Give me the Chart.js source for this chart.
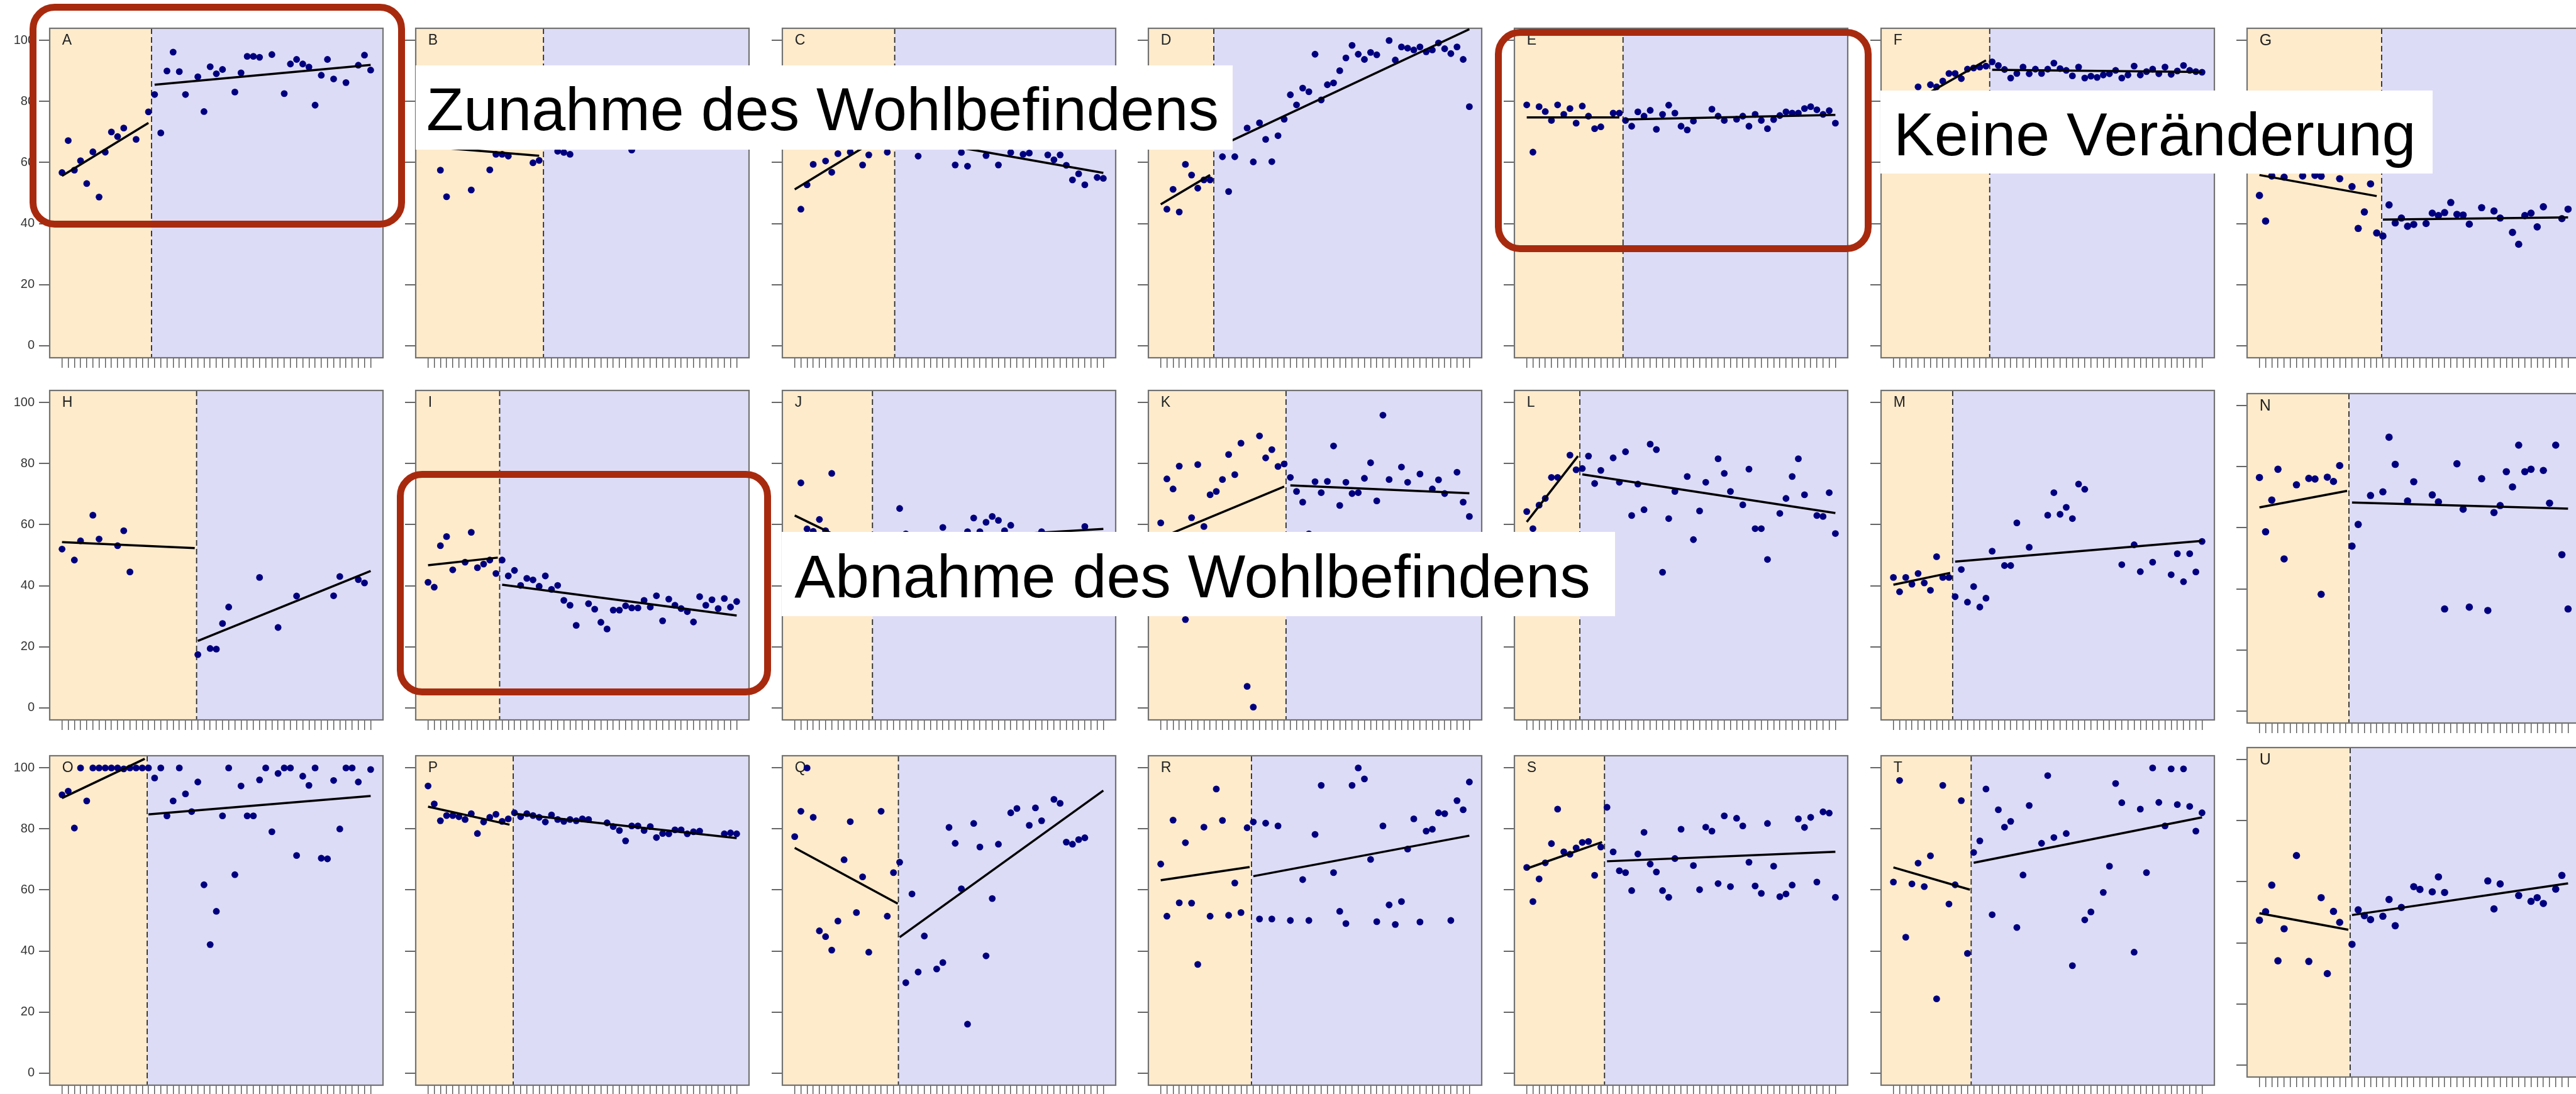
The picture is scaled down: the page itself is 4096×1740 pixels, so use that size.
<!DOCTYPE html>
<html>
<head>
<meta charset="utf-8">
<script src="https://cdn.jsdelivr.net/npm/chart.js@4.4.1/dist/chart.umd.min.js"></script>
<style>
  html, body { margin: 0; padding: 0; background: #fff; }
  #stage { position: relative; width: 4096px; height: 1740px; overflow: hidden; background: #fff;
           font-family: "Liberation Sans", Arial, sans-serif; }
  #stage canvas { position: absolute; z-index: 1; }
  .ring { position: absolute; z-index: 2; box-sizing: border-box; border: 11px solid #a82a0e; border-radius: 40px; }
  .tag { position: absolute; z-index: 3; background: #fff; }
  .tagtext { position: absolute; z-index: 4; font-size: 97px; line-height: 97px; color: #000; white-space: nowrap; }
</style>
</head>
<body>
<div id="stage">
  <div class="ring" style="left:47px;top:5.7px;width:597px;height:356.3px"></div>
  <div class="ring" style="left:2376.8px;top:45.7px;width:599.3px;height:355.2px"></div>
  <div class="ring" style="left:630.6px;top:748.7px;width:595.3px;height:357.5px"></div>

  <div class="tag" style="left:660.7px;top:103.8px;width:1299.8px;height:134.5px"></div>
  <div class="tagtext" style="left:678px;top:125.4px">Zunahme des Wohlbefindens</div>

  <div class="tag" style="left:2990.2px;top:143.7px;width:877.6px;height:132.2px"></div>
  <div class="tagtext" style="left:3011px;top:164.8px">Keine Veränderung</div>

  <div class="tag" style="left:1243.3px;top:845.9px;width:1324.7px;height:134.5px"></div>
  <div class="tagtext" style="left:1263.3px;top:867.8px">Abnahme des Wohlbefindens</div>
</div>

<script>
// Well-being scores per participant, one entry per session (0..50); null = no measurement.
const scoresA = [56.7, 67.2, 57.5, 60.6, 53.1, 63.5, 48.7, 63.4, 70.0, 68.5,
  71.3, null, 67.6, null, 76.6, 82.3, 69.7, 90.0, 96.2, 89.8,
  82.3, null, 88.1, 76.7, 91.4, 89.1, 90.5, null, 83.1, 89.4,
  94.8, 94.8, 94.5, null, 95.4, null, 82.6, 92.3, 93.8, 92.3,
  91.3, 78.8, 88.6, 93.8, 87.4, null, 86.2, null, 91.9, 95.2,
  90.3];
const scoresB = [null, null, 57.5, 48.8, null, null, null, 51.0, null, null,
  57.6, 62.7, 62.7, 62.1, null, null, null, 59.9, 60.7, null,
  null, 63.7, 63.3, 62.7, null, null, null, null, null, null,
  null, null, null, 64.1, null, null, null, null, null, null,
  null, null, null, null, null, null, null, null, null, null,
  null];
const scoresC = [null, 44.7, 52.7, 59.4, null, 60.5, 56.8, 62.9, null, 63.4,
  null, 59.2, 62.5, null, null, 63.4, null, null, null, null,
  62.1, null, null, null, null, null, 59.2, 63.3, 58.8, null,
  null, 62.3, null, 59.2, null, 63.3, null, 62.7, 63.1, null,
  null, 62.5, 60.9, 62.5, 59.1, 54.3, 56.3, 52.7, null, 55.1,
  54.8];
const scoresD = [null, 44.7, 51.2, 43.8, 59.4, 55.9, 51.6, 54.3, 54.3, null,
  61.9, 50.5, 61.9, null, 71.3, 60.2, 73.0, 67.6, 60.3, 68.8,
  74.2, 82.2, 78.9, 84.4, 83.2, 95.5, 80.5, 85.5, 86.1, 90.1,
  94.3, 98.4, 95.5, 93.8, 96.1, 95.3, null, 100, 93.6, 97.9,
  97.5, 96.9, 97.9, 96.3, 96.9, 99.2, 97.3, 95.7, 97.9, 93.8,
  78.3];
const scoresE = [78.9, 63.4, 78.3, 76.7, 73.8, 78.9, 75.8, 77.7, 72.9, 78.5,
  75.2, 71.1, 71.7, null, 76.2, 76.2, 73.8, 71.9, 76.6, 75.2,
  77.1, 70.9, 75.8, 78.8, 76.2, 71.9, 70.7, 73.6, null, null,
  77.5, 75.2, 73.8, null, 74.2, 75.2, 71.9, 75.8, 73.8, 71.1,
  74.1, 75.4, 76.6, 76.2, 76.2, 77.7, 78.3, 77.3, 75.8, 77.0,
  72.9];
const scoresF = [null, null, null, null, 84.8, null, 85.5, 84.8, 86.7, 89.2,
  89.2, 87.5, 90.6, 91.0, 91.3, 91.6, 93.0, 91.8, 90.5, 87.7,
  89.2, 91.3, 89.1, 90.6, 89.2, 90.6, 92.6, 90.8, 90.2, 88.4,
  91.3, 87.7, 88.3, 87.9, 88.7, 89.1, 90.2, 87.7, 88.7, 91.6,
  88.7, 89.8, 90.6, 89.1, 91.3, 88.9, 90.0, 91.8, 90.2, 89.8,
  89.6];
const scoresG = [49.2, 40.8, 55.6, null, 55.2, null, null, 55.6, null, 55.8,
  55.5, null, null, 54.7, null, 52.1, 38.4, 43.8, 53.0, 36.9,
  35.9, 46.1, 40.2, 41.8, 39.1, 39.7, null, 40.0, 43.4, 42.6,
  43.6, 46.9, 43.0, 42.8, 39.8, null, 45.2, null, 44.1, 41.8,
  null, 37.1, 33.2, 42.6, 43.4, 38.9, 45.5, null, null, 41.6,
  44.7];
const scoresH = [52.0, null, 48.4, 54.7, null, 63.1, 55.3, null, null, 53.1,
  58.0, 44.5, null, null, null, null, null, null, null, null,
  null, null, 17.4, null, 19.4, 19.2, 27.6, 33.0, null, null,
  null, null, 42.7, null, null, 26.3, null, null, 36.6, null,
  null, null, null, null, 36.7, 43.0, null, null, 42.0, 40.9,
  null];
const scoresI = [41.1, 39.5, 53.1, 56.1, 45.2, null, 47.7, 57.5, 45.9, 47.1,
  48.4, 44.0, 48.4, 43.2, 45.0, 40.1, 42.4, 41.9, 39.8, 43.2,
  38.8, 40.1, 35.2, 33.6, 27.0, null, 34.1, 32.3, 28.0, 25.8,
  32.0, 32.0, 33.4, 32.7, 32.7, 35.2, 33.0, 36.7, 28.5, 35.6,
  33.6, 32.5, 31.5, 28.1, 36.4, 33.6, 35.4, 32.5, 35.8, 33.0,
  34.8];
const scoresJ = [null, 73.7, 58.6, 57.8, 61.7, 58.0, 76.8, null, null, null,
  null, null, null, null, null, null, null, 65.3, 57.0, null,
  null, null, null, null, 59.1, null, null, null, 57.7, 62.2,
  57.7, 60.8, 62.7, 61.4, 58.0, 59.8, null, null, null, null,
  57.7, null, null, null, null, null, null, 59.4, null, null,
  null];
const scoresK = [60.6, 75.0, 71.7, 79.2, 28.9, 62.3, 79.7, 59.4, 69.8, 70.9,
  74.8, 83.0, 76.4, 86.7, 7.0, 0.2, 89.1, 81.9, 84.6, 79.1,
  79.9, 75.5, 70.9, 67.4, 57.0, 74.1, 70.5, 74.2, 85.8, 66.3,
  73.9, 70.2, 70.5, 75.2, 80.3, 67.8, 95.9, 74.8, null, 78.9,
  73.9, null, 76.6, null, 71.7, 74.7, 70.2, null, 77.2, 67.4,
  62.7];
const scoresL = [64.3, 58.7, 66.4, 68.6, 75.5, 75.5, null, 82.8, 78.0, 78.4,
  82.5, 73.5, 77.8, null, 81.9, 73.9, 83.9, 63.0, 73.3, 64.9,
  86.4, 84.6, 44.4, 62.0, 70.9, null, 75.8, 55.1, 64.5, 73.9,
  null, 81.6, 76.8, 70.9, null, 66.5, 78.2, 58.7, 58.7, 48.6,
  null, 63.7, 68.6, 75.8, 81.6, 69.8, null, 63.0, 62.7, 70.5,
  57.1];
const scoresM = [42.7, 38.0, 42.7, 40.5, 44.0, 40.9, 38.5, 49.5, 42.7, 42.7,
  36.4, 45.3, 34.6, 39.7, 33.0, 35.9, 51.3, null, 46.6, 46.6,
  60.6, null, 52.6, null, null, 63.1, 70.5, 63.4, 65.7, 62.0,
  73.3, 71.6, null, null, null, null, null, 46.9, null, 53.4,
  44.6, null, 47.7, null, null, 43.6, 50.5, 41.3, 50.5, 44.5,
  54.5];
const scoresN = [76.5, 58.7, 69.1, 79.2, 49.8, null, 74.1, null, 76.2, 76.0,
  38.2, 76.6, 75.2, 80.4, null, 54.0, 61.1, null, 70.6, null,
  71.8, 89.7, 80.8, null, 68.8, 75.1, null, null, 70.8, 68.5,
  33.4, null, 81.0, 66.1, 34.0, null, 76.1, 32.9, 65.0, 67.3,
  78.4, 73.4, 87.1, 78.4, 79.2, null, 78.8, 68.1, 87.1, 51.2,
  33.4];
const scoresO = [91.2, 92.4, 80.3, 100, 89.2, 100, 100, 100, 100, 100,
  99.7, 100, 100, 100, 100, 96.7, 100, 84.3, 89.2, 100,
  91.5, 85.7, 95.4, 61.7, 42.1, 53.0, 84.3, 100, 65.0, 94.1,
  84.3, 84.3, 96.1, 100, 79.1, 98.2, 100, 100, 71.3, 97.3,
  94.3, 100, 70.4, 70.2, 95.9, 80.0, 100, 100, 95.4, null,
  99.5];
const scoresP = [94.1, 88.2, 82.7, 84.4, 84.4, 84.0, 83.1, 85.0, 78.5, 82.3,
  83.8, 84.8, 82.5, 83.3, 85.3, 84.0, 85.0, 84.4, 83.8, 82.3,
  84.6, 83.1, 82.5, 83.1, 82.7, 83.3, 83.1, null, null, 82.0,
  80.8, 79.5, 76.1, 81.0, 81.0, 79.5, 80.8, 77.2, 78.5, 78.4,
  79.7, 79.7, 78.4, 79.1, 79.3, null, null, null, 78.4, 78.7,
  78.4];
const scoresQ = [77.5, 85.8, 100, 83.8, 46.6, 44.7, 40.3, 49.8, 69.9, 82.4,
  52.6, 64.3, 39.6, null, 85.8, 51.4, 65.7, 69.1, 29.6, 58.7,
  33.1, 44.9, null, 34.1, 36.2, 80.5, 75.3, 60.4, 16.0, 81.8,
  74.1, 38.4, 57.2, 75.0, null, 85.3, 86.7, null, 81.2, 86.9,
  82.7, null, 89.7, 88.4, 75.7, 75.0, 76.5, 77.1, null, null,
  null];
const scoresR = [68.5, 51.4, 82.9, 55.8, 75.5, 55.7, 35.6, 80.6, 51.4, 93.1,
  82.8, 51.7, 62.3, 52.6, 80.4, 82.3, 50.5, 81.9, 50.5, 81.0,
  null, 50.0, null, 63.4, 50.0, 78.2, 94.3, null, 65.7, 53.0,
  49.0, 94.3, 100, 96.4, 70.0, 49.6, 81.0, 55.1, 48.7, 56.2,
  73.4, 83.3, 49.5, 79.3, 79.9, 85.3, 85.0, 50.0, 89.3, 86.3,
  95.4];
const scoresS = [67.4, 56.2, 63.6, 68.9, 75.2, 86.5, 72.5, 71.7, 73.8, 75.6,
  75.9, 64.8, 74.1, 87.1, 72.5, 66.3, 65.7, 59.8, 71.8, 78.9,
  68.5, 65.9, 59.8, 57.6, 70.3, 79.9, null, 68.0, 60.1, 80.6,
  79.3, 62.1, 84.3, 61.1, 83.5, 81.0, 69.1, 61.3, 58.9, 81.8,
  67.8, 57.8, 58.7, 61.6, 83.3, 80.5, 83.8, 62.6, 85.6, 85.2,
  57.6];
const scoresT = [62.6, 95.9, 44.5, 62.0, 68.8, 61.1, 71.2, 24.3, 94.3, 55.4,
  61.7, 89.3, 39.2, 72.3, 76.1, 93.1, 51.9, 86.3, 80.6, 82.5,
  47.7, 64.9, 87.7, null, 75.3, 97.5, 77.2, null, 78.5, 35.2,
  null, 50.2, 52.8, null, 59.2, 67.8, 94.9, 88.6, null, 39.6,
  86.5, 65.7, 100, 88.7, 81.0, 99.7, 88.0, 99.7, 87.4, 79.3,
  85.3];
const scoresU = [47.4, 50.2, 58.9, 34.1, 44.6, null, 68.6, null, 33.9, null,
  54.8, 29.9, 50.3, 46.7, null, 39.5, 50.8, 48.9, 47.6, null,
  48.7, 54.2, 45.6, 51.6, null, 58.4, 57.5, null, 56.7, 61.6,
  56.5, null, null, null, null, null, null, 60.3, 51.1, 59.3,
  null, null, 55.5, null, 53.6, 54.8, 52.9, null, 57.6, 62.1,
  null];

const panelIds = ['A', 'B', 'C', 'D', 'E', 'F', 'G', 'H', 'I', 'J', 'K', 'L', 'M', 'N', 'O', 'P', 'Q', 'R', 'S', 'T', 'U'];
const panelScores = [scoresA, scoresB, scoresC, scoresD, scoresE, scoresF, scoresG, scoresH, scoresI, scoresJ, scoresK,
  scoresL, scoresM, scoresN, scoresO, scoresP, scoresQ, scoresR, scoresS, scoresT, scoresU];

// Session position of the switch from baseline to intervention (dashed line).
const phaseChange = [14.5, 18.7, 16.2, 8.6, 15.6, 15.6, 19.8, 21.8, 11.6, 12.6, 20.3, 8.6, 9.6, 14.5, 13.8, 13.8, 16.8, 14.7, 12.6, 12.6, 14.7];

// Fitted trend per phase: [startSession, startScore, endSession, endScore].
const baselineTrend = [[0, 55.6, 14, 73.0], [0, 65.2, 18, 62.2], [0, 51.2, 16, 70.9], [0, 46.3, 8, 55.9], [0, 74.8, 15, 74.8],
  [0, 76.2, 15, 93.5], [0, 55.9, 19, 49.0], [0, 54.3, 21.5, 52.3], [0, 46.7, 11.3, 49.2], [0, 63.0, 12, 51.2], [0, 55.7, 20, 72.5],
  [0, 60.9, 8.3, 82.5], [0, 40.3, 9.2, 44.2], [0, 66.7, 14.2, 72.1], [0, 90.1, 13.4, 103.0], [0, 87.3, 13.2, 81.4],
  [0, 73.8, 16.7, 55.5], [0, 63.2, 14.4, 67.5], [0, 67.0, 12.2, 75.7], [0, 67.4, 12.4, 60.1], [0, 49.7, 14.4, 44.3]];
const interventionTrend = [[15, 85.5, 50, 92.0], null, [17, 68.4, 50, 56.6], [9, 64.8, 50, 103.7], [16, 74.1, 50, 75.6],
  [16, 90.4, 50, 89.7], [20, 41.3, 50, 42.0], [22, 21.9, 50, 44.8], [12, 40.3, 50, 30.2], [13, 54.2, 50, 58.6], [21, 72.9, 50, 70.3],
  [9, 76.5, 50, 63.8], [10, 47.9, 50, 54.7], [15, 68.3, 50, 66.3], [14, 84.8, 50, 90.8], [14, 85.0, 50, 77.0],
  [17, 44.5, 50, 92.6], [15, 64.5, 50, 77.8], [13, 69.4, 50, 72.5], [13, 68.9, 50, 83.8], [15, 49.1, 50, 59.5]];

const yTickValues = [0, 20, 40, 60, 80, 100];
const sessionTicks = Array.from({ length: 51 }, (_, i) => i);

// ---- layout of the 7 x 3 grid ----
const S = 0.83;
const PANEL_W = 639 * S, PANEL_H = 634.5 * S;
const colLeft = c => (95.3 + 701.6 * c) * S;
const rowTop = [50.5, 744.5, 1444.3].map(v => v * S);
const panelNudge = { N: 5.5 * S, U: -15.5 * S };
const LM = 62, RM = 6, TM = 16, BM = 22;
const FONT = '"Liberation Sans", Arial, Helvetica, sans-serif';

Chart.defaults.font.family = FONT;

const phasePlugin = {
  id: 'phases',
  beforeDatasetsDraw(chart, args, opts) {
    const { ctx, chartArea: a, scales: { x } } = chart;
    const px = x.getPixelForValue(opts.change);
    ctx.save();
    ctx.fillStyle = '#fdebcc';
    ctx.fillRect(a.left, a.top, px - a.left, a.bottom - a.top);
    ctx.fillStyle = '#dddcf7';
    ctx.fillRect(px, a.top, a.right - px, a.bottom - a.top);
    ctx.strokeStyle = '#2a2a2a';
    ctx.lineWidth = 1.8;
    ctx.setLineDash([9, 5]);
    ctx.beginPath();
    ctx.moveTo(px, a.top);
    ctx.lineTo(px, a.bottom);
    ctx.stroke();
    ctx.setLineDash([]);
    ctx.strokeStyle = '#727272';
    ctx.lineWidth = 2.2;
    ctx.strokeRect(a.left, a.top, a.right - a.left, a.bottom - a.top);
    ctx.fillStyle = '#222';
    ctx.font = opts.labelSize + 'px ' + FONT;
    ctx.textAlign = 'left';
    ctx.textBaseline = 'top';
    ctx.fillText(opts.label, x.getPixelForValue(0), a.top + 8);
    ctx.restore();
  }
};

const stage = document.getElementById('stage');

panelIds.forEach((id, i) => {
  const col = i % 7, row = Math.floor(i / 7);
  const left = colLeft(col);
  const top = rowTop[row] + (panelNudge[id] || 0);
  const cv = document.createElement('canvas');
  const cx = Math.round(left - LM), cy = Math.round(top - TM);
  cv.width = Math.round(LM + PANEL_W + RM);
  cv.height = Math.round(TM + PANEL_H + BM);
  cv.style.left = cx + 'px';
  cv.style.top = cy + 'px';
  stage.insertBefore(cv, stage.firstChild);

  const points = [];
  panelScores[i].forEach((v, s) => { if (v !== null) points.push({ x: s, y: v }); });

  const datasets = [{
    data: points,
    pointRadius: col === 6 ? 5.8 : 5.4,
    pointHoverRadius: 0,
    pointBackgroundColor: '#00007f',
    pointBorderWidth: 0,
    showLine: false,
    order: 2
  }];
  [baselineTrend[i], interventionTrend[i]].forEach(t => {
    if (!t) return;
    datasets.push({
      data: [{ x: t[0], y: t[1] }, { x: t[2], y: t[3] }],
      showLine: true,
      borderColor: '#000',
      borderWidth: 3.5,
      pointRadius: 0,
      order: 1
    });
  });

  new Chart(cv, {
    type: 'scatter',
    data: { datasets },
    options: {
      responsive: false,
      animation: false,
      devicePixelRatio: 1,
      events: [],
      layout: { padding: { top: TM, right: RM, left: 0, bottom: 0 } },
      plugins: {
        legend: { display: false },
        tooltip: { enabled: false },
        phases: { change: phaseChange[i], label: id, labelSize: col === 6 ? 25 : 23 }
      },
      scales: {
        x: {
          type: 'linear', min: -2, max: 52,
          afterBuildTicks: s => { s.ticks = sessionTicks.map(v => ({ value: v })); },
          afterFit: s => { s.height = BM; },
          border: { display: false },
          grid: { drawOnChartArea: false, drawTicks: true, tickLength: 16, color: '#555', tickColor: '#555', lineWidth: 1.4, tickWidth: 1.4 },
          ticks: { autoSkip: false, maxRotation: 0, padding: 0, callback: () => '' }
        },
        y: {
          type: 'linear', min: -4, max: 104,
          afterBuildTicks: s => { s.ticks = yTickValues.map(v => ({ value: v })); },
          afterFit: s => { s.width = LM; },
          border: { display: false },
          grid: { drawOnChartArea: false, drawTicks: true, tickLength: 17, color: '#666', tickColor: '#666', lineWidth: 2, tickWidth: 2 },
          ticks: { padding: 7, color: '#333', font: { size: 20, family: FONT }, callback: v => (col === 0 ? String(v) : '') }
        }
      }
    },
    plugins: [phasePlugin]
  });
});
</script>
</body>
</html>
